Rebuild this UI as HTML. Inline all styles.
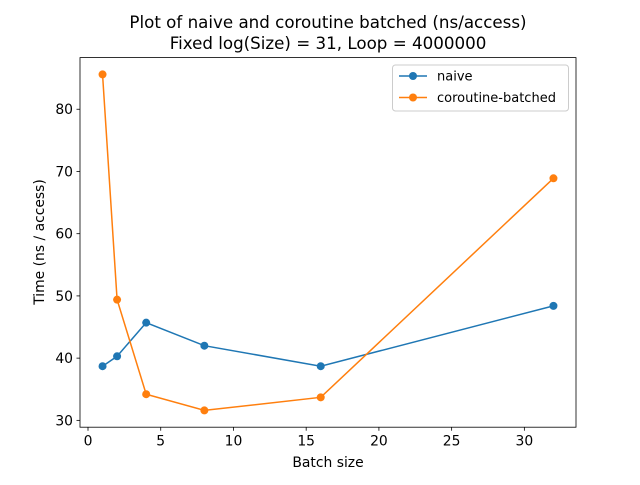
<!DOCTYPE html>
<html><head><meta charset="utf-8"><style>
body{margin:0;background:#fff;}
svg text{font-family:"DejaVu Sans","Liberation Sans",sans-serif;}
</style></head><body>
<svg id="chart" width="640" height="480" xmlns="http://www.w3.org/2000/svg">
<rect width="640" height="480" fill="#fff"/>
<text x="328" y="28" font-size="16.7" text-anchor="middle">Plot of naive and coroutine batched (ns/access)</text>
<text x="328" y="49" font-size="16.7" text-anchor="middle">Fixed log(Size) = 31, Loop = 4000000</text>
<g id="axes"></g>
<text x="328" y="467" font-size="13.9" text-anchor="middle">Batch size</text>
<text x="0" y="0" font-size="13.9" text-anchor="middle" transform="translate(44,242) rotate(-90)">Time (ns / access)</text>
</svg>
<script>
const batchSizes=[1,2,4,8,16,32];
const naive=[38.7,40.3,45.7,42.0,38.7,48.4];
const coroutine=[85.6,49.4,34.2,31.6,33.7,68.9];
const xTicks=[0,5,10,15,20,25,30];
const yTicks=[30,40,50,60,70,80];
const seriesNames=['naive','coroutine-batched'];
const colors=['#1f77b4','#ff7f0e'];

const L=80,R=576,T=57.6,B=427.2;
const xs=batchSizes, allY=naive.concat(coroutine);
const xmin0=Math.min(...xs),xmax0=Math.max(...xs),ymin0=Math.min(...allY),ymax0=Math.max(...allY);
const xp=(xmax0-xmin0)*0.05,yp=(ymax0-ymin0)*0.05;
const xmin=xmin0-xp,xmax=xmax0+xp,ymin=ymin0-yp,ymax=ymax0+yp;
const X=v=>L+(v-xmin)/(xmax-xmin)*(R-L);
const Y=v=>B-(v-ymin)/(ymax-ymin)*(B-T);
const NS='http://www.w3.org/2000/svg';
const g=document.getElementById('axes');
function mk(t,a,p){const e=document.createElementNS(NS,t);for(const k in a)e.setAttribute(k,a[k]);(p||g).appendChild(e);return e;}
xTicks.forEach(t=>{const x=X(t);
const l=mk('line',{x1:x,x2:x,y1:B,y2:B+3.5,stroke:'#000','stroke-width':0.8});


const tx=mk('text',{x:x,y:B+18.5,'font-size':13.9,'text-anchor':'middle'});tx.textContent=t;

});
yTicks.forEach(t=>{const y=Y(t);
const l=mk('line',{x1:L-3.5,x2:L,y1:y,y2:y,stroke:'#000','stroke-width':0.8});


const tx=mk('text',{x:L-7,y:y+5,'font-size':13.9,'text-anchor':'end'});tx.textContent=t;

});
[naive,coroutine].forEach((s,i)=>{
const pl=mk('polyline',{points:s.map((v,j)=>X(xs[j])+','+Y(v)).join(' '),fill:'none',stroke:colors[i],'stroke-width':1.5});


s.forEach((v,j)=>{const c=mk('circle',{cx:X(xs[j]),cy:Y(v),r:4,fill:colors[i]});

});});
const fr=mk('rect',{x:L,y:T,width:R-L,height:B-T,fill:'none',stroke:'#000','stroke-width':0.8});


const lg=mk('g',{});


mk('rect',{x:392.5,y:65,width:176,height:46,fill:'#fff',stroke:'#ccc',rx:3},lg);
seriesNames.forEach((n,i)=>{const y=76+i*21.5;
mk('line',{x1:399,x2:427,y1:y,y2:y,stroke:colors[i],'stroke-width':1.5},lg);
mk('circle',{cx:413,cy:y,r:4,fill:colors[i]},lg);
const t=mk('text',{x:437,y:y+4.5,'font-size':13},lg);t.textContent=n;

});
</script>
</body></html>
